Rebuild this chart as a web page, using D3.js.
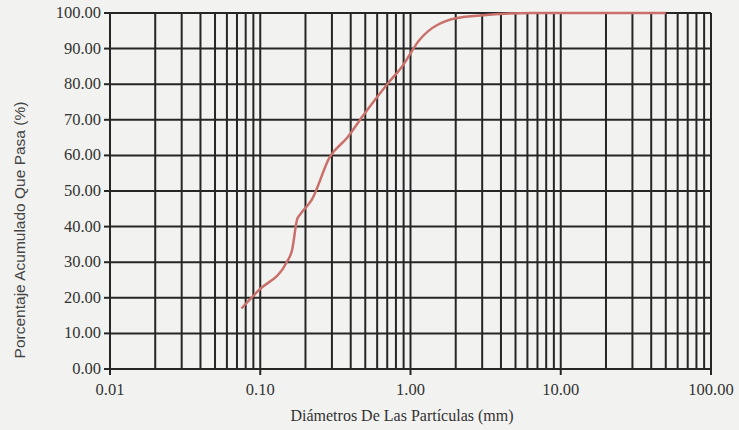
<!DOCTYPE html>
<html lang="es">
<head>
    <meta charset="UTF-8">
    <script src="https://d3js.org/d3.v7.min.js"></script>
    <title>Curva granulométrica</title>
    <style>
        body {
            margin: 0;
            background: #f2f2f0;
        }
        svg {
            display: block;
        }
        .tick-label {
            font-family: "Liberation Serif", "Times New Roman", serif;
            font-size: 16.5px;
            fill: #333;
        }
        .axis-title {
            font-family: "Liberation Serif", "Times New Roman", serif;
            font-size: 16px;
            fill: #333;
        }
        .y-title {
            font-family: "Liberation Sans", Arial, sans-serif;
            font-size: 15.5px;
            fill: #444;
        }
        .grid line {
            stroke: #262626;
            stroke-width: 2;
        }
        .curva {
            fill: none;
            stroke: #c9706b;
            stroke-width: 2.5;
        }
    </style>
</head>
<body>
    <div id="chart"></div>

    <script>
        const width = 739;
        const height = 430;
        const margin = { top: 13, right: 28, bottom: 61, left: 110 };

        // Datos (diámetro en mm, % que pasa)
        const diametros = [0.075, 0.097, 0.15, 0.163, 0.176, 0.185, 0.22, 0.29, 0.38, 0.48, 0.70, 0.88, 1.15, 2.0, 2.9, 6.5, 50];
        const pasa = [17, 22, 30, 33.5, 42, 43.5, 47.5, 59.5, 65, 71, 80, 85, 92.5, 98.5, 99.3, 100, 100];

        const xDecadas = [0.01, 0.1, 1, 10, 100];
        const yTicks = [0, 10, 20, 30, 40, 50, 60, 70, 80, 90, 100];

        const svg = d3.select("#chart")
            .append("svg")
            .attr("width", width)
            .attr("height", height);

        const x = d3.scaleLog()
            .domain([0.01, 100])
            .range([margin.left, width - margin.right]);

        const y = d3.scaleLinear()
            .domain([0, 100])
            .range([height - margin.bottom, margin.top]);

        const fmt = d3.format(".2f");

        // grilla vertical (1..9 por década)
        const grid = svg.append("g").attr("class", "grid");
        grid.selectAll(".v")
            .data(x.ticks())
            .join("line")
            .attr("x1", d => x(d))
            .attr("x2", d => x(d))
            .attr("y1", y(0))
            .attr("y2", y(100));

        // grilla horizontal
        grid.selectAll(".h")
            .data(yTicks)
            .join("line")
            .attr("x1", x(0.01))
            .attr("x2", x(100))
            .attr("y1", d => y(d))
            .attr("y2", d => y(d));

        // marcas de los ejes
        grid.selectAll(".tx")
            .data(xDecadas)
            .join("line")
            .attr("x1", d => x(d))
            .attr("x2", d => x(d))
            .attr("y1", y(0))
            .attr("y2", y(0) + 6);

        grid.selectAll(".ty")
            .data(yTicks)
            .join("line")
            .attr("x1", x(0.01) - 6)
            .attr("x2", x(0.01))
            .attr("y1", d => y(d))
            .attr("y2", d => y(d));

        // etiquetas
        svg.selectAll(".ylab")
            .data(yTicks)
            .join("text")
            .attr("class", "tick-label")
            .attr("x", x(0.01) - 9)
            .attr("y", d => y(d) + 5)
            .attr("text-anchor", "end")
            .text(d => fmt(d));

        svg.selectAll(".xlab")
            .data(xDecadas)
            .join("text")
            .attr("class", "tick-label")
            .attr("x", d => x(d))
            .attr("y", y(0) + 26)
            .attr("text-anchor", "middle")
            .text(d => fmt(d));

        svg.append("text")
            .attr("class", "axis-title")
            .attr("x", 402)
            .attr("y", 421)
            .attr("text-anchor", "middle")
            .text("Diámetros De Las Partículas (mm)");

        svg.append("text")
            .attr("class", "y-title")
            .attr("transform", "translate(25,230) rotate(-90)")
            .attr("text-anchor", "middle")
            .text("Porcentaje Acumulado Que Pasa (%)");

        // curva granulométrica
        const line = d3.line()
            .x((d, i) => x(diametros[i]))
            .y(d => y(d))
            .curve(d3.curveMonotoneX);

        svg.append("path")
            .datum(pasa)
            .attr("class", "curva")
            .attr("d", line);
    </script>
</body>
</html>
